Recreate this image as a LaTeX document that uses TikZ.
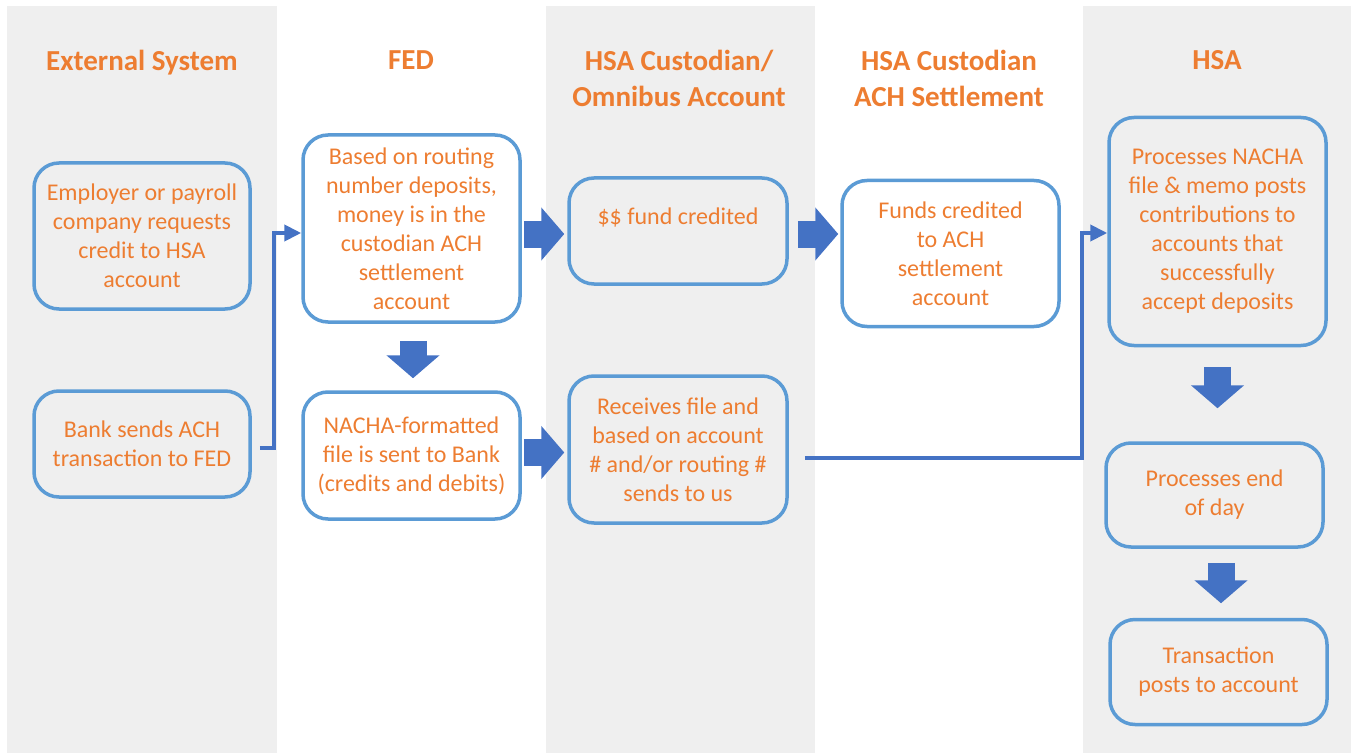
\documentclass[tikz,border=0pt]{standalone}
\usepackage{fontspec}
\setmainfont{Carlito}
\usetikzlibrary{calc}
\usetikzlibrary{arrows.meta}
\usetikzlibrary{backgrounds}

\definecolor{lanegray}{HTML}{EFEFEF}
\definecolor{boxblue}{HTML}{5B9BD5}
\definecolor{arrowblue}{HTML}{4472C4}
\definecolor{textorange}{HTML}{ED7D31}

\tikzset{%
  lane/.style={fill=lanegray, draw=none},%
  lanetitle/.style={text=textorange, align=center, font=\fontsize{29}{36}\selectfont\bfseries},%
  stepbox/.style={draw=boxblue, line width=3.5pt, rounded corners=25pt, align=center,%
    text=textorange, font=\fontsize{24}{29}\selectfont, inner sep=0pt},%
  bigarrow/.style={draw=arrowblue, line width=27pt,%
    -{Triangle[length=23pt,width=52pt]}},%
  flowline/.style={draw=arrowblue, line width=4pt,%
    -{Triangle[length=17pt,width=16pt]}},%
}

\begin{document}
\begin{tikzpicture}[x=1pt,y=-1pt]%
    \useasboundingbox (0,0) rectangle (1351,754);%
    % swim lanes
    \fill[lane] (7,6) rectangle (277,753);%
    \fill[lane] (546,6) rectangle (815,753);%
    \fill[lane] (1083,6) rectangle (1351,753);%
    \node[lanetitle] (extT) at (142,63) {External System};%
    \node[lanetitle] (fedT) at (411,60) {FED};%
    \node[lanetitle] (omniT) at (679,78) {HSA Custodian/\\Omnibus Account};%
    \node[lanetitle] (achT) at (949,78) {HSA Custodian\\ACH Settlement};%
    \node[lanetitle] (hsaT) at (1217,60) {HSA};%
    % steps
    \node[stepbox, minimum width=216pt, minimum height=146pt] (emp) at (142,236)%
        {Employer or payroll\\company requests\\credit to HSA\\account};%
    \node[stepbox, minimum width=216pt, minimum height=106pt] (bank) at (142,444)%
        {Bank sends ACH\\transaction to FED};%
    \node[stepbox, minimum width=217pt, minimum height=187pt] (fed) at (411.5,228.5)%
        {Based on routing\\number deposits,\\money is in the\\custodian ACH\\settlement\\account};%
    \node[stepbox, minimum width=217pt, minimum height=127pt] (nacha) at (411.5,455.5)%
        {NACHA-formatted\\file is sent to Bank\\(credits and debits)};%
    \node[stepbox, minimum width=218pt, minimum height=106pt] (fund) at (678,231)%
        {\$\$ fund credited\\ \mbox{}};%
    \node[stepbox, minimum width=218pt, minimum height=147pt] (recv) at (678,449.5)%
        {Receives file and\\based on account\\\# and/or routing \#\\sends to us};%
    \node[stepbox, minimum width=217pt, minimum height=146pt] (funds) at (950.5,253.5)%
        {Funds credited\\to ACH\\settlement\\account};%
    \node[stepbox, minimum width=217pt, minimum height=228pt] (hsa) at (1217.5,231.5)%
        {Processes NACHA\\file \& memo posts\\contributions to\\accounts that\\successfully\\accept deposits};%
    \node[stepbox, minimum width=217pt, minimum height=104pt] (eod) at (1214.5,495)%
        {Processes end\\of day};%
    \node[stepbox, minimum width=217pt, minimum height=105pt] (trans) at (1218.5,672)%
        {Transaction\\posts to account};%
    % block arrows
    \draw[bigarrow] ([xshift=2pt,yshift=-3pt]fed.east |- fund.west) -- ([xshift=-3pt,yshift=-3pt]fund.west);%
    \draw[bigarrow] ([xshift=9pt,yshift=-3pt]fund.east) -- ([xshift=-2pt,yshift=-3pt]fund.east -| funds.west);%
    \draw[bigarrow] ([xshift=2pt,yshift=3pt]nacha.east) -- ([xshift=-3pt,yshift=3pt]nacha.east -| recv.west);%
    \draw[bigarrow] ([xshift=1.5pt,yshift=-17pt]fed.south) -- ([xshift=1.5pt,yshift=12pt]fed.south |- nacha.north);%
    \draw[bigarrow] ([yshift=-20pt]hsa.south) -- ([yshift=33pt]hsa.south |- eod.north);%
    \draw[bigarrow] ([xshift=6.5pt,yshift=-14pt]eod.south) -- ([xshift=6.5pt,yshift=14.5pt]eod.south |- trans.north);%
    % elbow connectors
    \draw[flowline] ([xshift=8pt,yshift=-4pt]bank.east) -- ++(14,0) |- ([yshift=-4.5pt]fed.west);%
    \draw[flowline] ([xshift=16pt,yshift=-8.5pt]recv.east) -- ++(277,0) |- ([yshift=-1.5pt]hsa.west);%
\end{tikzpicture}
\end{document}
